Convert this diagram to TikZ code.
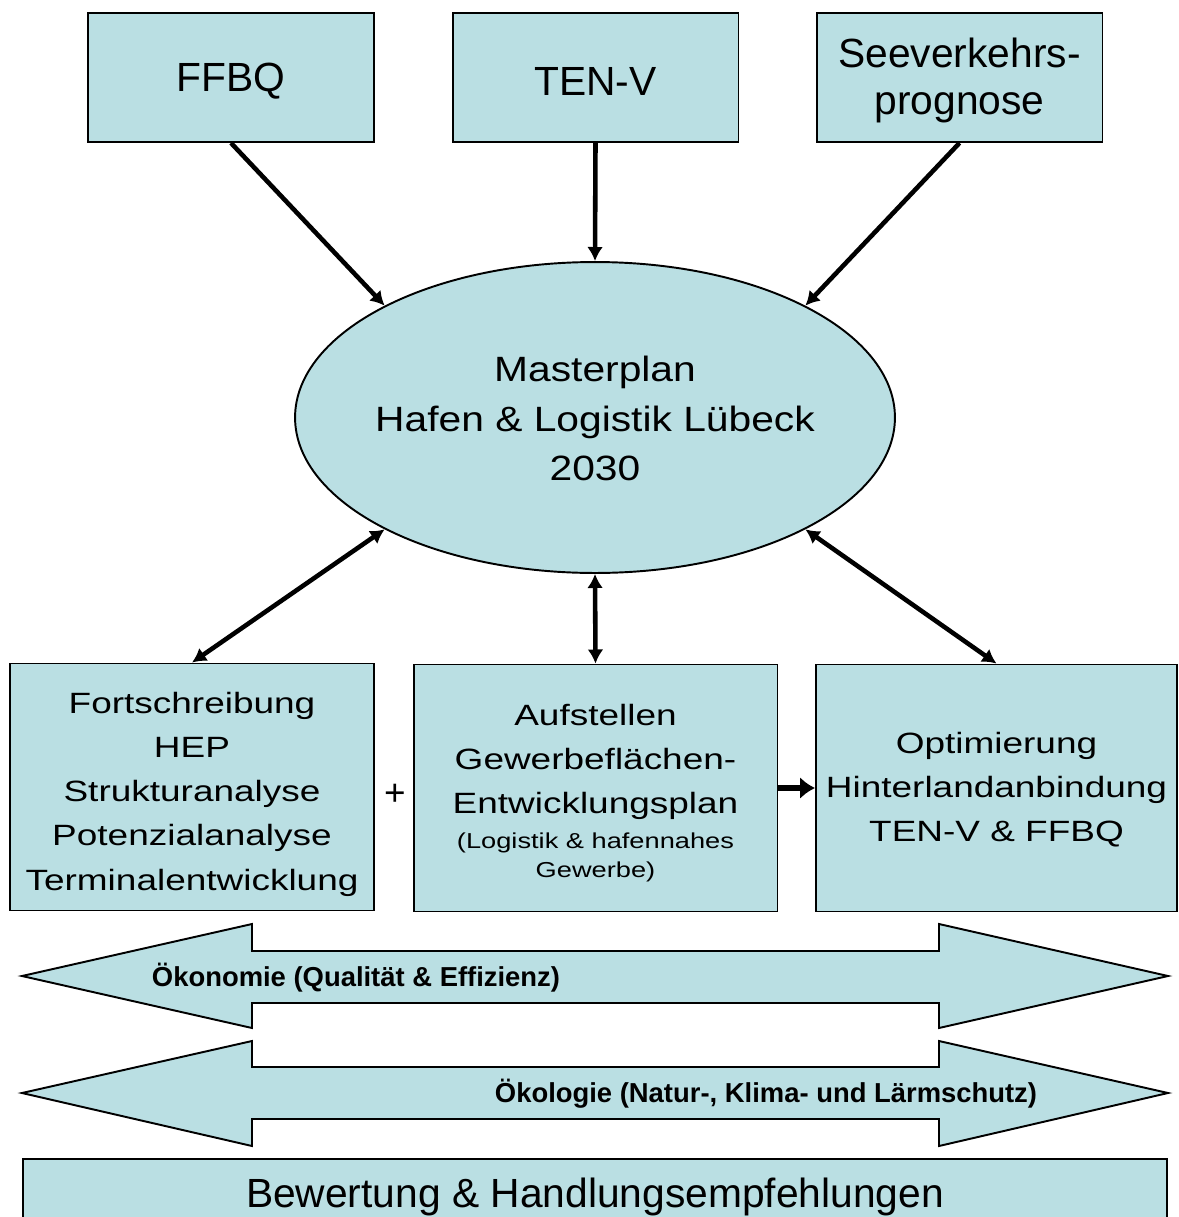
\documentclass[tikz,border=0pt]{standalone}
\usepackage{fontspec}
\setmainfont{Liberation Sans}
\newfontfamily\breit[FakeStretch=1.26]{Liberation Sans}
\newfontfamily\halbbreit[FakeStretch=1.16]{Liberation Sans}
\usetikzlibrary{shapes.geometric, arrows.meta}

\definecolor{hafenblau}{RGB}{186,223,227}
\newcommand{\kopf}[1]{\rule{0pt}{#1}}

\tikzset{
    >={Latex[length=8pt,width=9pt]},
    kasten/.style={draw, line width=1.1pt, fill=hafenblau, inner sep=0pt, align=center, font=\breit\fontsize{16.7}{25.2}\selectfont},
    quelle/.style={kasten, minimum width=5.72cm, minimum height=2.58cm, font=\fontsize{23.2}{26.8}\selectfont},
    modul/.style={kasten, minimum width=7.28cm, minimum height=4.94cm},
    pfeil/.style={line width=2.6pt, ->},
    band/.style={draw, line width=1.1pt, fill=hafenblau},
    fett/.style={font=\fontsize{15.6}{19}\selectfont\bfseries},
}

\begin{document}
\begin{tikzpicture}[x=0.02cm, y=-0.02cm]

            \useasboundingbox (0, 0) rectangle (1179, 1217);
            \clip (0, 0) rectangle (1179, 1217);

            \node[quelle] (ffbq) at (231, 77.5) {\kopf{20pt}FFBQ};
            \node[quelle] (tenv) at (595.5, 77.5) {\kopf{20pt}TEN-V};
            \node[quelle] (see) at (959.5, 77.5) {\kopf{20pt}Seeverkehrs-\\prognose};

            \node[draw, line width=1.1pt, fill=hafenblau, ellipse, inner sep=0pt, minimum width=12cm, minimum height=6.22cm] (M) at (595, 417.5) {};
            \node[align=center, font=\halbbreit\fontsize{20}{28.2}\selectfont] (titel) at (595, 418.5) {Masterplan\\Hafen \& Logistik Lübeck\\2030};

            \node[modul] (fort) at (192, 787) {\kopf{20.1pt}Fortschreibung\\HEP\\Strukturanalyse\\Potenzialanalyse\\Terminalentwicklung};
            \node[modul] (plan) at (595.5, 788) {\kopf{17.7pt}Aufstellen\\Gewerbeflächen-\\Entwicklungsplan\\[-5.3pt]{\fontsize{12.3}{16.5}\selectfont (Logistik \& hafennahes}\\[-8.7pt]{\fontsize{12.3}{16.5}\selectfont Gewerbe)}};
            \node[modul, minimum width=7.22cm] (opt) at (996.5, 788) {\kopf{13.9pt}Optimierung\\Hinterlandanbindung\\TEN-V \& FFBQ};
            \node[font=\fontsize{21}{25}\selectfont] (plus) at (395, 795) {+};

            \draw[pfeil] (ffbq.south) to (M.152);
            \draw[pfeil] (tenv.south) to (M.north);
            \draw[pfeil] (see.south) to (M.28);
            \draw[pfeil, <->] (M.208) to (fort.north);
            \draw[pfeil, <->] (M.south) to (plan.north);
            \draw[pfeil, <->] (M.332) to (opt.north);
            \draw[line width=3.4pt, -{Latex[length=8.5pt,width=12.5pt]}] (plan.east) to (opt.west);

            \draw[band] (22, 976) -- (252, 924) -- (252, 951) -- (939, 951) -- (939, 924) -- (1168, 976) -- (939, 1028) -- (939, 1003) -- (252, 1003) -- (252, 1028) -- cycle;
            \node[fett] (oekonomie) at (356, 978) {Ökonomie (Qualität \& Effizienz)};

            \draw[band] (22, 1093) -- (252, 1041) -- (252, 1067) -- (939, 1067) -- (939, 1041) -- (1168, 1093) -- (939, 1146) -- (939, 1119) -- (252, 1119) -- (252, 1146) -- cycle;
            \node[fett] (oekologie) at (766, 1094) {Ökologie (Natur-, Klima- und Lärmschutz)};

            \node[kasten, minimum width=22.88cm, minimum height=1.52cm, font=\fontsize{23.2}{27}\selectfont] (bewertung) at (595, 1197) {Bewertung \& Handlungsempfehlungen};

        \end{tikzpicture}
\end{document}
